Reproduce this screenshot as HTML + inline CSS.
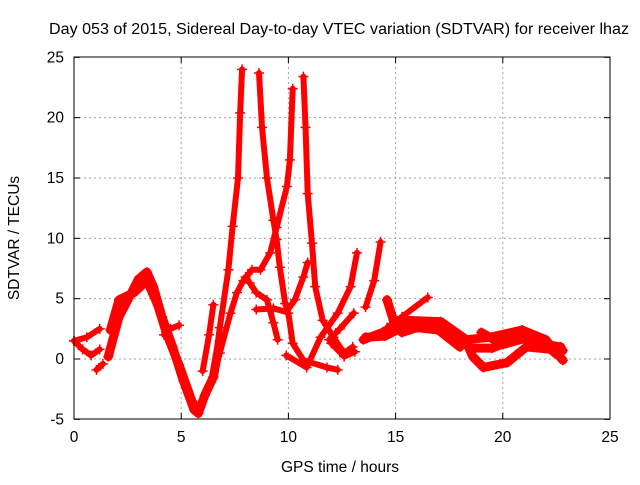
<!DOCTYPE html>
<html><head><meta charset="utf-8"><style>
body{margin:0;background:#fff}
svg text{font-family:"Liberation Sans",sans-serif;font-size:15.5px;fill:#000}
</style></head><body>
<svg id="chart" width="640" height="480" xmlns="http://www.w3.org/2000/svg">
<rect width="640" height="480" fill="#fff"/>
<text x="339" y="34" text-anchor="middle" textLength="580" lengthAdjust="spacingAndGlyphs">Day 053 of 2015, Sidereal Day-to-day VTEC variation (SDTVAR) for receiver lhaz</text>
<text x="340" y="472" text-anchor="middle">GPS time / hours</text>
<text transform="translate(19,238) rotate(-90)" text-anchor="middle">SDTVAR / TECUs</text>
<g id="grid"></g><g id="ticks"></g><g id="series"></g>
<rect x="74" y="57" width="536" height="362" fill="none" stroke="#000" stroke-width="1"/>
</svg>
<script>
const xTicks=[0,5,10,15,20,25];
const yTicks=[-5,0,5,10,15,20,25];
const trackA=[[0,1.5],[0.6,1.8],[1.2,2.5]];
const trackB=[[0,1.5],[0.4,0.8],[0.8,0.3],[1.2,0.8]];
const trackC=[[1.05,-0.9],[1.35,-0.4]];
const trackHump=[[1.6,0.2],[2.1,3.5],[2.6,5.2],[3.0,6.6],[3.4,7.2],[3.7,6],[4.1,3.5],[4.6,1],[5.1,-1.8],[5.6,-4.2],[5.8,-4.5],[6.1,-3],[6.5,-1.5],[6.8,1.5]];
const trackRise=[[6.5,-1.5],[6.8,2.6],[7.2,7.4],[7.4,11],[7.65,15],[7.75,20.4],[7.84,24]];
const trackHump2=[[1.7,2.4],[2.1,4.9],[2.8,5.5],[3.4,6.5],[3.9,4.5],[4.3,2.2],[4.9,-0.5],[5.5,-3.5],[5.8,-4.3]];
const trackBranch=[[4.2,2],[4.5,2.5],[4.9,2.8]];
const trackThin=[[6.0,-1],[6.3,2],[6.5,4.5]];
const trackPeak2=[[8.63,23.7],[8.77,19.2],[9,15],[9.3,11.5],[9.45,9.9],[9.6,7.6],[9.85,4.6],[10,3.8],[10.2,1.3],[10.7,-0.1],[11.8,-0.7],[12.3,-0.9]];
const trackPeak3=[[6.5,-1.5],[6.8,0.5],[7.3,3.8],[7.6,5.5],[7.9,6.5],[8.3,7.4],[8.7,7.4],[9.15,8.8],[9.45,10.9],[9.93,14.3],[10.07,16.5],[10.2,22.4]];
const trackPeak4=[[10.7,23.4],[10.8,19.2],[10.9,13.7],[11.1,9.6],[11.25,6],[11.6,3.2],[12.1,1.8],[12.6,0.5],[13,1]];
const trackD=[[8.0,6.8],[8.2,6.3],[8.5,5.5],[9,4.9],[9.3,3],[9.5,1.6]];
const trackE=[[8.5,4.1],[9.3,4.2],[9.9,3.9],[10.3,4.9],[10.7,6.8],[10.9,8]];
const trackF=[[9.9,0.3],[10.85,-0.7],[11.5,1.8],[12.3,3.8],[12.9,6],[13.2,8.8]];
const trackG=[[13.05,3.8],[12.4,2.5],[11.9,1.6],[12.0,1.3],[12.6,0.2],[13.1,0.6]];
const trackH=[[13.6,4.3],[14.0,6.5],[14.3,9.7]];
const trackI=[[13.5,1.6],[14.7,2.4],[15.5,3.2],[17.1,3.1],[18.3,1.6],[19.4,1.8],[20.9,2.4],[22,1.6],[22.8,-0.1]];
const trackJ=[[18.3,1.4],[18.6,0.2],[19.1,-0.7],[20.2,-0.3],[21.1,1],[22.8,0.7]];
const trackK=[[14.6,4.9],[14.9,3.2],[15.3,2.2],[16,2.6],[17,2.4],[18,1]];
const trackL=[[16.5,5.1],[15.3,3.5],[14.6,2.6]];
const trackM=[[19,2.2],[20,1.2],[21,1.7],[22,1.2],[22.7,1]];
const trackN=[[13.6,1.8],[14.5,1.9],[15.5,2.8],[16.5,2.8],[17.5,2.2],[18.5,0.9],[19.5,0.9],[20.5,1.6],[21.5,1.9],[22.5,0.4]];
const series=[trackA,trackB,trackC,trackHump,trackHump2,trackBranch,trackThin,trackPeak2,trackPeak3,trackPeak4,trackD,trackE,trackF,trackG,trackH,trackI,trackJ,trackK,trackL,trackM,trackN,trackRise];
const wide=[3,4,15,16,17,19,20];
const NS="http://www.w3.org/2000/svg";
const X=v=>74+v*(536/25);
const Y=v=>359-v*(362/30);
function mk(t,a,p){const e=document.createElementNS(NS,t);for(const k in a)e.setAttribute(k,a[k]);p.appendChild(e);return e;}
const grid=document.getElementById('grid'),ticks=document.getElementById('ticks'),ser=document.getElementById('series');
xTicks.forEach(t=>{
 if(t>0&&t<25){const g=mk('line',{x1:X(t),x2:X(t),y1:57,y2:419,stroke:'#a0a0a0','stroke-dasharray':'2,3'},grid);
 
 }
 mk('line',{x1:X(t),x2:X(t),y1:419,y2:413,stroke:'#000'},ticks);
 mk('line',{x1:X(t),x2:X(t),y1:57,y2:63,stroke:'#000'},ticks);
 const l=mk('text',{x:X(t),y:442,'text-anchor':'middle'},ticks);l.textContent=t;
 
 
});
yTicks.forEach(t=>{
 if(t>-5&&t<25){const g=mk('line',{x1:74,x2:610,y1:Y(t),y2:Y(t),stroke:'#a0a0a0','stroke-dasharray':'2,3'},grid);
 
 }
 mk('line',{x1:74,x2:80,y1:Y(t),y2:Y(t),stroke:'#000'},ticks);
 mk('line',{x1:610,x2:604,y1:Y(t),y2:Y(t),stroke:'#000'},ticks);
 const l=mk('text',{x:64,y:Y(t)+5,'text-anchor':'end'},ticks);l.textContent=t;
 
 
});
series.forEach((s,i)=>{
 const pts=s.map(p=>X(p[0])+','+Y(p[1])).join(' ');
 const pl=mk('polyline',{points:pts,fill:'none',stroke:'#f00','stroke-width':wide.includes(i)?9:6,'stroke-linejoin':'round','stroke-linecap':'round'},ser);
 
 
 s.forEach(p=>{
  const m=mk('path',{d:`M${X(p[0])-5},${Y(p[1])}h10M${X(p[0])},${Y(p[1])-5}v10`,stroke:'#f00','stroke-width':1.5},ser);
  
  
 });
});
</script>
</body></html>
